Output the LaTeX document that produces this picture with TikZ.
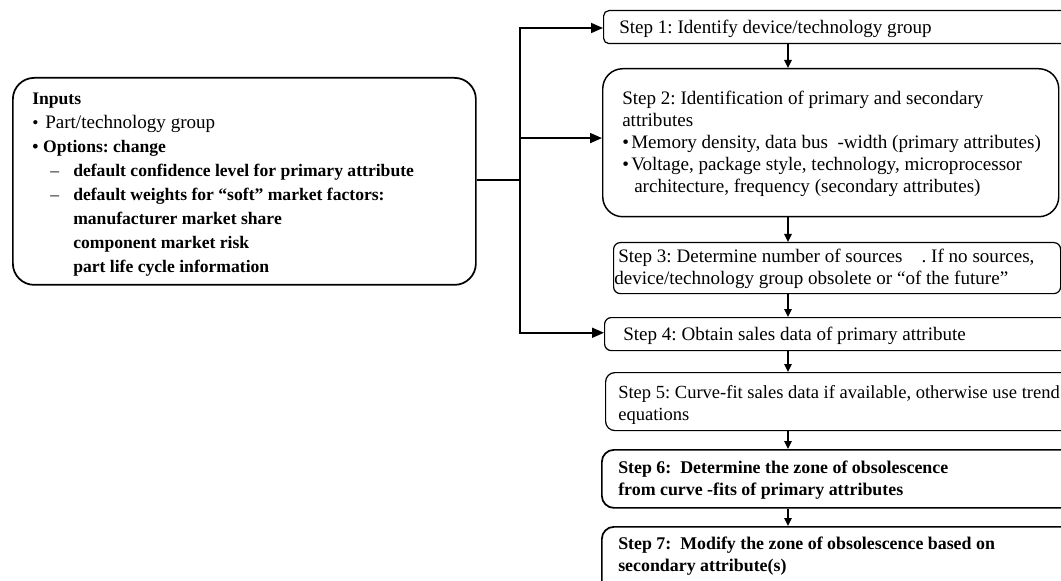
\documentclass[tikz,border=0pt]{standalone}
\usepackage{fontspec}
\setmainfont{Liberation Serif}
\usetikzlibrary{arrows.meta}
\frenchspacing
\begin{document}
\begin{tikzpicture}[x=0.75pt,y=-0.75pt,
  box/.style={draw, line width=0.9pt, anchor=north west, inner sep=0pt},
  boldbox/.style={box, line width=1.3pt},
  txt/.style={anchor=north west, inner sep=0pt, align=left, font=\fontsize{14.3}{16.5}\selectfont},
  btxt/.style={txt, font=\fontsize{13.4}{16.5}\selectfont\bfseries},
  intxt/.style={anchor=north west, inner sep=0pt, align=left, font=\fontsize{13.2}{18}\selectfont},
  hconn/.style={line width=1.3pt, -{Triangle[length=9pt,width=7.5pt]}},
  vconn/.style={line width=1.1pt, -{Triangle[length=6pt,width=5.5pt]}},
  plain/.style={line width=1.3pt}]
\clip (0,0) rectangle (1061,581);
\fill[white] (0,0) rectangle (1061,581);
% boxes
\node[box, line width=1.3pt, rounded corners=16pt, minimum width=463*0.75pt, minimum height=207*0.75pt] (inputs) at (12,77) {};
\node[box, rounded corners=4pt, minimum width=480*0.75pt, minimum height=33*0.75pt] (s1) at (603,10) {};
\node[box, line width=1.1pt, rounded corners=15pt, minimum width=456*0.75pt, minimum height=148*0.75pt] (s2) at (602,68) {};
\node[box, rounded corners=5pt, minimum width=447*0.75pt, minimum height=51*0.75pt] (s3) at (613,242) {};
\node[box, rounded corners=5pt, minimum width=480*0.75pt, minimum height=33*0.75pt] (s4) at (604,317) {};
\node[box, rounded corners=7pt, minimum width=480*0.75pt, minimum height=58*0.75pt] (s5) at (605,372) {};
\node[boldbox, rounded corners=9pt, minimum width=480*0.75pt, minimum height=58*0.75pt] (s6) at (601,449) {};
\node[boldbox, rounded corners=9pt, minimum width=480*0.75pt, minimum height=70*0.75pt] (s7) at (601,526) {};
% texts
\node[intxt] (tin) at (32,{104-16.8}) {\strut\textbf{Inputs}\\
\makebox[9.75pt][l]{•}{\fontsize{14.3}{18}\selectfont Part/technology group}\\
\textbf{\makebox[8.25pt][l]{•}Options: change}\\
\hspace*{13.5pt}\makebox[17.25pt][l]{–}\textbf{default confidence level for primary attribute}\\
\hspace*{13.5pt}\makebox[17.25pt][l]{–}\textbf{default weights for “soft” market factors:}\\
\hspace*{30.75pt}\textbf{manufacturer market share}\\
\hspace*{30.75pt}\textbf{component market risk}\\
\hspace*{30.75pt}\textbf{part life cycle information}};
\node[txt] (t1) at (619,{33-15.4}) {\strut Step 1: Identify device/technology group};
\node[txt] (t2) at (622,{104-15.4}) {\strut Step 2: Identification of primary and secondary\\
attributes\\
\makebox[6.75pt][l]{•}Memory density, data bus\ \ -width (primary attributes)\\
\makebox[6.75pt][l]{•}Voltage, package style, technology, microprocessor\\
\hspace*{9pt}architecture, frequency (secondary attributes)};
\node[txt] (t3) at (614,{262-15.4}) {\strut\hspace*{3pt}Step 3: Determine number of sources\ \ \ \ . If no sources,\\
device/technology group obsolete or “of the future”};
\node[txt] (t4) at (623,{340-15.4}) {\strut Step 4: Obtain sales data of primary attribute};
\node[txt, font=\fontsize{13.9}{16.5}\selectfont] (t5) at (618,{398-15.4}) {\strut Step 5: Curve-fit sales data if available, otherwise use trend\\
equations};
\node[btxt] (t6) at (618,{473-15.4}) {\strut Step 6:\ \ Determine the zone of obsolescence\\
from curve -fits of primary attributes};
\node[btxt] (t7) at (618,{549-15.4}) {\strut Step 7:\ \ Modify the zone of obsolescence based on\\
secondary attribute(s)};
% connectors
\coordinate (J) at (520,180);
\coordinate (top) at (520,28);
\coordinate (vx) at (788,0);
\draw[plain] (inputs.east |- J) -- (J);
\draw[hconn] (J) |- (s1.west |- top);
\draw[hconn] (J) |- ([yshift=3.5pt]s2.west);
\draw[hconn] (J) |- ([yshift=1pt]s4.west);
\draw[vconn] (s1.south -| vx) -- (s2.north -| vx);
\draw[vconn] (s2.south -| vx) -- (s3.north -| vx);
\draw[vconn] (s3.south -| vx) -- (s4.north -| vx);
\draw[vconn] (s4.south -| vx) -- (s5.north -| vx);
\draw[vconn] (s5.south -| vx) -- (s6.north -| vx);
\draw[vconn] (s6.south -| vx) -- (s7.north -| vx);
\end{tikzpicture}
\end{document}
